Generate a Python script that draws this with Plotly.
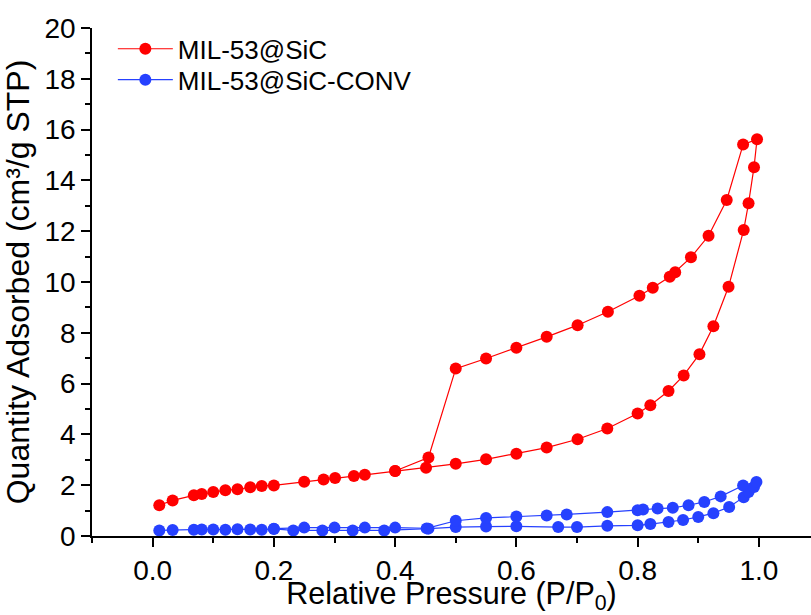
import plotly.graph_objects as go

# MIL-53@SiC (adsorption branch followed by desorption branch)
red_p = [0.011, 0.033, 0.068, 0.081, 0.100, 0.120, 0.140, 0.161, 0.180, 0.200,
         0.250, 0.282, 0.301, 0.332, 0.350, 0.400, 0.451, 0.500, 0.550, 0.600,
         0.650, 0.701, 0.750, 0.800, 0.821, 0.851, 0.876, 0.902, 0.925, 0.950,
         0.975, 0.983, 0.992, 0.997,
         0.974, 0.947, 0.917, 0.888, 0.862, 0.853, 0.825, 0.803, 0.751, 0.701,
         0.650, 0.600, 0.550, 0.500, 0.455, 0.400]
red_v = [1.21, 1.40, 1.60, 1.65, 1.73, 1.80, 1.84, 1.92, 1.97, 1.99,
         2.14, 2.22, 2.28, 2.36, 2.41, 2.56, 2.69, 2.84, 3.02, 3.24,
         3.48, 3.81, 4.23, 4.82, 5.15, 5.71, 6.32, 7.16, 8.26, 9.81,
         12.05, 13.10, 14.52, 15.62,
         15.41, 13.23, 11.82, 10.97, 10.38, 10.21, 9.77, 9.46, 8.83, 8.30,
         7.84, 7.41, 6.99, 6.59, 3.09, 2.56]

# MIL-53@SiC-CONV
blue_p = [0.011, 0.033, 0.068, 0.081, 0.100, 0.120, 0.140, 0.161, 0.180, 0.200,
          0.232, 0.280, 0.330, 0.382, 0.455, 0.500, 0.550, 0.600, 0.669, 0.700,
          0.750, 0.800, 0.821, 0.851, 0.875, 0.900, 0.925, 0.951, 0.975, 0.983,
          0.992, 0.996,
          0.974, 0.937, 0.910, 0.884, 0.858, 0.833, 0.809, 0.800, 0.750, 0.683,
          0.650, 0.600, 0.550, 0.500, 0.452, 0.400, 0.350, 0.300, 0.250, 0.200]
blue_v = [0.22, 0.24, 0.25, 0.26, 0.26, 0.25, 0.27, 0.26, 0.25, 0.28,
          0.22, 0.22, 0.22, 0.22, 0.29, 0.35, 0.37, 0.38, 0.35, 0.35,
          0.40, 0.42, 0.47, 0.55, 0.63, 0.75, 0.90, 1.14, 1.53, 1.73,
          1.93, 2.13,
          1.99, 1.56, 1.34, 1.21, 1.11, 1.08, 1.04, 1.01, 0.94, 0.85,
          0.81, 0.77, 0.71, 0.60, 0.30, 0.33, 0.33, 0.33, 0.33, 0.29]

series_names = ["MIL-53@SiC", "MIL-53@SiC-CONV"]
x_title = "Relative Pressure (P/P<sub>0</sub>)"
y_title = "Quantity Adsorbed (cm³/g STP)"
x_ticks = [0.0, 0.2, 0.4, 0.6, 0.8, 1.0]
x_ticklabels = ["0.0", "0.2", "0.4", "0.6", "0.8", "1.0"]

FONT = "Arial, Liberation Sans, sans-serif"
RED = "#FF0000"
BLUE = "#2641FF"

fig = go.Figure()
fig.add_trace(go.Scatter(x=red_p, y=red_v, mode="lines+markers", name=series_names[0],
                         line=dict(color=RED, width=1.2),
                         marker=dict(color=RED, size=12, symbol="circle"),
                         showlegend=True, legend="legend"))
fig.add_trace(go.Scatter(x=blue_p, y=blue_v, mode="lines+markers", name=series_names[1],
                         line=dict(color=BLUE, width=1.2),
                         marker=dict(color=BLUE, size=12, symbol="circle"),
                         showlegend=True, legend="legend2"))

axis_common = dict(showgrid=False, zeroline=False, showline=True, linecolor="black",
                   linewidth=1.5, ticks="outside", ticklen=9, tickwidth=1.5,
                   tickcolor="black", automargin=False,
                   tickfont=dict(family=FONT, size=28, color="black"))

fig.update_xaxes(range=[-0.1, 1.086], tickvals=x_ticks, ticktext=x_ticklabels,
                 title=dict(text=x_title, font=dict(family=FONT, size=30.5, color="black"), standoff=0),
                 minor=dict(dtick=0.1, tick0=0, ticks="outside", ticklen=5, tickwidth=1.5, tickcolor="black"),
                 **axis_common)
fig.update_yaxes(range=[0, 20], dtick=2, tick0=0,
                 title=dict(text=y_title, font=dict(family=FONT, size=32, color="black"), standoff=6),
                 minor=dict(dtick=1, tick0=0, ticks="outside", ticklen=5, tickwidth=1.5, tickcolor="black"),
                 **axis_common)

legend_style = dict(xanchor="left", yanchor="middle",
                    font=dict(family=FONT, size=26, color="black"),
                    bgcolor="rgba(0,0,0,0)", itemwidth=55, visible=True)

fig.update_layout(
    width=811, height=615,
    showlegend=True,
    margin=dict(l=92, r=0, t=28, b=79, autoexpand=False),
    paper_bgcolor="white", plot_bgcolor="white",
    font=dict(family=FONT, color="black"),
    legend=dict(x=0.029, y=0.959, **legend_style),
    legend2=dict(x=0.029, y=0.898, **legend_style),
)

fig.write_html("out.html", config={"displayModeBar": False},
               post_script="document.body.style.margin='0';")
